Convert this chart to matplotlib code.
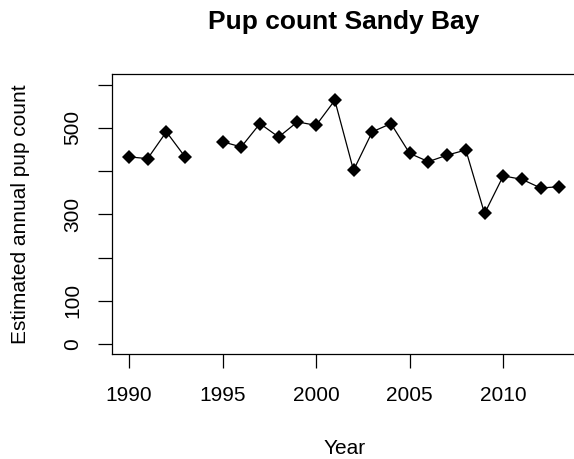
import numpy as np
import matplotlib
matplotlib.use("Agg")
import matplotlib.pyplot as plt

# pup counts; 1994 has no survey
years = list(range(1990, 2014))
pups = [433, 429, 491, 433, np.nan, 468, 456, 510, 479, 514, 506, 564,
        402, 491, 510, 441, 422, 437, 449, 302, 389, 381, 361, 364]

x_ticks = [1990, 1995, 2000, 2005, 2010]
y_ticks = [0, 100, 200, 300, 400, 500, 600]
y_tick_labels = ["0", "100", "", "300", "", "500", ""]

plt.rcParams["font.family"] = ["Liberation Sans", "DejaVu Sans"]

fig = plt.figure(figsize=(5.74, 4.59), dpi=100)
ax = fig.add_axes([0.1946, 0.228, 0.810, 0.610])

ax.plot(years, pups, color="black", linewidth=0.9, marker="D",
        markersize=7, markerfacecolor="black", markeredgewidth=0)

# R-style 4% padding around the data range
ax.set_xlim(1990 - 0.92, 2013 + 0.92)
ax.set_ylim(-24, 624)
ax.set_xticks(x_ticks)
ax.set_yticks(y_ticks)
ax.set_yticklabels(y_tick_labels, rotation=90, va="center")

ax.tick_params(direction="out", length=10, width=0.9, labelsize=15)
ax.tick_params(axis="x", pad=13)
ax.tick_params(axis="y", pad=11)
for s in ax.spines.values():
    s.set_linewidth(0.9)

ax.set_xlabel("Year", fontsize=15, va="center")
ax.xaxis.set_label_coords(0.5, -0.335)
ax.set_ylabel("Estimated annual pup count", fontsize=15, va="center")
ax.yaxis.set_label_coords(-0.197, 0.5)

fig.text(0.599, 0.952, "Pup count Sandy Bay", ha="center", va="center",
         fontsize=19, fontweight="bold")

fig.savefig("out.png", dpi=100)
